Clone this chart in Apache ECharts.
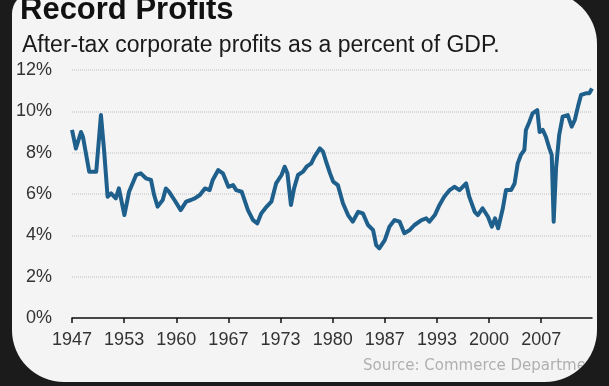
<!DOCTYPE html>
<html>
<head>
<meta charset="utf-8">
<script src="https://cdn.jsdelivr.net/npm/echarts@6/dist/echarts.min.js"></script>
<style>
  html, body { margin: 0; padding: 0; background: #1b1b1b; width: 609px; height: 386px; overflow: hidden; }
  #card { position: absolute; left: 12px; top: -8px; width: 585px; height: 390px; background: #f4f4f4;
          border-radius: 22px 52px 52px 52px; overflow: hidden; }
  #chart { position: absolute; left: -12px; top: 8px; width: 609px; height: 386px; }
</style>
</head>
<body>
<div id="card"><div id="chart"></div></div>
<script>
// Data (year, after-tax corporate profits as % of GDP)
const years = [1947.0,1947.5,1948.15,1948.4,1949.2,1950.1,1950.7,1951.1,1951.55,1952.0,1952.6,1953.0,1953.7,1954.3,1955.2,1955.8,1956.45,1957.1,1957.5,1957.95,1958.6,1959.0,1959.4,1960.1,1960.9,1961.6,1962.2,1962.7,1963.35,1964.0,1964.6,1965.0,1965.7,1966.3,1967.0,1967.6,1968.0,1968.7,1969.5,1970.15,1970.7,1971.2,1971.9,1972.5,1973.1,1973.8,1974.2,1974.55,1975.0,1975.4,1975.9,1976.55,1977.0,1977.6,1978.0,1978.7,1979.1,1979.5,1980.0,1980.4,1981.0,1981.65,1982.3,1982.9,1983.6,1984.2,1984.85,1985.5,1985.9,1986.3,1987.0,1987.6,1988.25,1988.9,1989.5,1990.2,1990.8,1991.7,1992.3,1992.7,1993.4,1994.0,1994.6,1995.3,1995.9,1996.55,1997.4,1997.8,1998.5,1998.9,1999.5,2000.2,2000.7,2001.1,2001.5,2002.1,2002.5,2003.15,2003.6,2004.0,2004.4,2004.85,2005.05,2005.5,2005.9,2006.5,2006.8,2007.2,2007.6,2008.05,2008.35,2008.6,2008.9,2009.3,2009.75,2010.4,2010.9,2011.3,2011.75,2012.1,2012.7,2013.15,2013.5];
const profits = [9.1,8.2,9.0,8.77,7.08,7.08,9.82,8.13,5.87,6.03,5.79,6.27,4.98,6.11,6.92,7.0,6.76,6.68,5.95,5.39,5.71,6.27,6.11,5.71,5.22,5.63,5.71,5.79,5.95,6.27,6.19,6.68,7.16,7.0,6.35,6.43,6.19,6.11,5.22,4.74,4.58,5.06,5.39,5.63,6.51,6.92,7.32,7.0,5.47,6.27,6.92,7.08,7.32,7.48,7.8,8.21,8.05,7.56,7.0,6.6,6.43,5.55,4.98,4.66,5.14,5.06,4.5,4.26,3.53,3.37,3.77,4.42,4.74,4.66,4.1,4.26,4.5,4.74,4.82,4.66,4.98,5.47,5.87,6.19,6.35,6.19,6.51,5.87,5.14,4.98,5.31,4.9,4.42,4.82,4.34,5.31,6.19,6.19,6.51,7.48,7.89,8.13,9.1,9.5,9.9,10.06,9.0,9.1,8.77,8.21,7.89,4.66,7.24,8.85,9.74,9.82,9.26,9.58,10.3,10.79,10.87,10.87,11.1];
const xStart = 1947;
const xEnd = 2013.5;
// Tick positions and their labels (evenly spaced, 20/3 years apart)
const xTickValues = [1947, 1947 + 20/3, 1947 + 40/3, 1967, 1967 + 20/3, 1967 + 40/3, 1987, 1987 + 20/3, 1987 + 40/3, 2007];
const xTickLabels = ['1947', '1953', '1960', '1967', '1973', '1980', '1987', '1993', '2000', '2007'];
const yTicks = [0, 2, 4, 6, 8, 10, 12];

const titleText = 'Record Profits';
const subtitleText = 'After-tax corporate profits as a percent of GDP.';
const sourceText = 'Source: Commerce Department';

const chart = echarts.init(document.getElementById('chart'), null, { renderer: 'canvas' });
const seriesData = years.map((y, i) => [y, profits[i]]);

chart.setOption({
  backgroundColor: 'transparent',
  animation: false,
  title: [
    { text: titleText, left: 20, top: -5, padding: 0,
      textStyle: { fontFamily: 'Liberation Sans', fontWeight: 'bold', fontSize: 31, color: '#111' } },
    { text: subtitleText, left: 22, top: 34, padding: 0,
      textStyle: { fontFamily: 'Liberation Sans', fontWeight: 'normal', fontSize: 23, color: '#1a1a1a' } },
    { text: sourceText, left: 363, top: 359, padding: 0,
      textStyle: { fontFamily: 'DejaVu Sans', fontWeight: 'normal', fontSize: 15, color: '#b0b0b0' } }
  ],
  grid: { left: 72, right: 17, top: 70, bottom: 68, containLabel: false },
  xAxis: {
    type: 'value', min: xStart, max: xEnd,
    axisLine: { show: true, lineStyle: { color: '#111', width: 1.5 } },
    axisTick: { show: true, length: 5, customValues: xTickValues, lineStyle: { color: '#111', width: 1.5 } },
    axisLabel: { margin: 13, color: '#333', fontFamily: 'Liberation Sans', fontSize: 18,
      customValues: xTickValues,
      formatter: v => {
        const i = xTickValues.findIndex(t => Math.abs(t - v) < 1e-6);
        return i >= 0 ? xTickLabels[i] : '';
      } },
    splitLine: { show: false }
  },
  yAxis: {
    type: 'value', min: yTicks[0], max: yTicks[yTicks.length - 1], interval: 2,
    axisLine: { show: false }, axisTick: { show: false },
    axisLabel: { margin: 20, color: '#333', fontFamily: 'Liberation Sans', fontSize: 18, formatter: '{value}%' },
    splitLine: { show: true, lineStyle: { color: '#cfcfcf', width: 1.5, type: [1, 1] } }
  },
  series: [{
    type: 'line', data: seriesData, showSymbol: false, smooth: false,
    lineStyle: { color: '#1e5f8c', width: 4, join: 'round' },
    z: 5
  }]
});
</script>
</body>
</html>
